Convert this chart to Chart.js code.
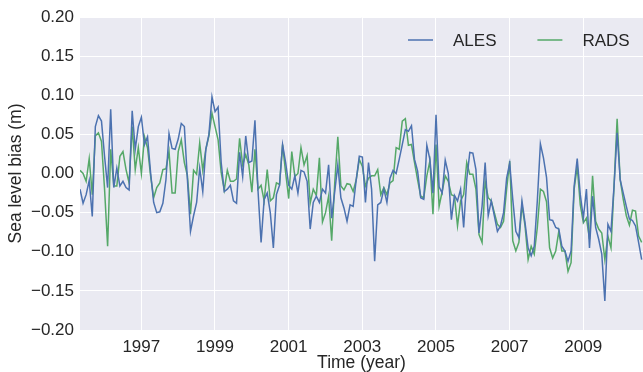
<!DOCTYPE html>
<html>
<head>
<meta charset="utf-8">
<script src="https://cdn.jsdelivr.net/npm/chart.js@4"></script>
<style>
  html, body { margin: 0; padding: 0; background: #ffffff; }
  #chart { display: block; }
</style>
</head>
<body>
<canvas id="chart" width="643" height="372"></canvas>
<script>
// monthly samples, decimal years starting at the first month
var startYear = 1995.336;
var endYear = 2010.622;

var ales = [
  -0.020, -0.038, -0.027, -0.009, -0.055, 0.060, 0.074, 0.067, 0.022, -0.018,
  0.082, -0.018, 0.007, -0.016, -0.010, -0.018, -0.021, 0.080, 0.031, 0.060,
  0.072, 0.037, 0.047, 0.001, -0.037, -0.050, -0.049, -0.038, -0.008, 0.051,
  0.032, 0.031, 0.044, 0.064, 0.060, -0.008, -0.074, -0.054, -0.037, 0.007,
  -0.023, 0.031, 0.050, 0.098, 0.079, 0.085, 0.014, -0.023, -0.020, -0.015,
  -0.035, -0.038, 0.027, -0.004, 0.048, 0.014, 0.016, 0.068, -0.022, -0.088,
  -0.033, -0.025, -0.050, -0.095, -0.027, -0.015, 0.037, 0.014, -0.015, -0.020,
  -0.003, -0.025, 0.004, 0.002, -0.010, -0.071, -0.037, -0.029, -0.037, -0.020,
  -0.025, 0.011, -0.057, -0.023, 0.011, -0.031, -0.044, -0.061, -0.040, -0.042,
  -0.008, 0.022, 0.021, -0.037, 0.014, -0.020, -0.112, -0.040, -0.037, -0.020,
  -0.037, -0.006, 0.004, 0.000, 0.018, 0.037, 0.056, 0.054, 0.061, 0.018,
  0.003, -0.031, -0.033, 0.036, 0.018, -0.025, 0.075, -0.017, -0.025, 0.017,
  0.000, -0.059, -0.028, -0.035, -0.020, -0.069, -0.008, 0.027, 0.026, 0.005,
  -0.076, -0.042, 0.014, -0.054, -0.035, -0.054, -0.074, -0.067, -0.050, -0.006,
  0.013, -0.033, -0.074, -0.082, -0.035, -0.063, -0.095, -0.105, -0.093, -0.035,
  0.038, 0.020, -0.005, -0.059, -0.060, -0.069, -0.071, -0.093, -0.099, -0.112,
  -0.099, -0.016, 0.019, -0.027, -0.057, -0.020, -0.095, -0.029, -0.069, -0.084,
  -0.103, -0.163, -0.065, -0.074, -0.016, 0.052, -0.008, -0.025, -0.042, -0.058,
  -0.060, -0.067, -0.088, -0.110
];

var rads = [
  0.004, 0.000, -0.010, 0.019, -0.027, 0.048, 0.052, 0.041, -0.020, -0.093,
  0.031, -0.016, -0.016, 0.022, 0.028, 0.005, -0.012, 0.060, 0.005, 0.033,
  0.000, 0.047, 0.033, -0.003, -0.031, -0.018, -0.012, 0.005, 0.006, 0.028,
  -0.025, -0.025, 0.028, 0.043, 0.014, -0.003, -0.052, 0.004, -0.001, 0.039,
  0.004, 0.031, 0.048, 0.077, 0.060, 0.043, 0.001, -0.021, 0.004, -0.010,
  -0.010, -0.007, 0.045, 0.011, 0.024, 0.011, -0.024, 0.031, -0.020, -0.015,
  -0.035, 0.005, -0.035, -0.031, -0.012, -0.014, 0.037, 0.001, -0.032, 0.028,
  -0.004, 0.000, 0.033, 0.011, 0.023, -0.038, -0.020, -0.028, 0.020, -0.062,
  -0.050, -0.029, -0.086, -0.012, 0.047, -0.016, -0.021, -0.013, -0.014, -0.023,
  -0.008, 0.018, 0.009, -0.016, -0.006, -0.003, -0.003, 0.005, -0.027, -0.018,
  -0.027, -0.012, -0.009, 0.033, 0.031, 0.067, 0.070, 0.036, 0.037, 0.014,
  -0.008, -0.029, -0.031, -0.003, 0.016, -0.052, 0.037, -0.042, -0.023, -0.003,
  -0.010, -0.027, -0.029, -0.067, -0.035, -0.027, 0.014, -0.001, -0.001, -0.020,
  -0.078, -0.088, -0.010, -0.031, -0.035, -0.050, -0.065, -0.069, -0.061, -0.020,
  0.016, -0.086, -0.099, -0.088, -0.040, -0.067, -0.110, -0.093, -0.103, -0.069,
  -0.020, -0.023, -0.036, -0.095, -0.108, -0.099, -0.074, -0.099, -0.099, -0.125,
  -0.114, -0.020, 0.009, -0.040, -0.063, -0.057, -0.084, -0.003, -0.061, -0.071,
  -0.076, -0.110, -0.080, -0.095, -0.016, 0.070, -0.008, -0.033, -0.054, -0.066,
  -0.047, -0.048, -0.080, -0.088
];

var xTickYears = [1997, 1999, 2001, 2003, 2005, 2007, 2009];
var yMin = -0.20;
var yMax = 0.20;
var yStep = 0.05;

var seriesNames = ["ALES", "RADS"];
var seriesColors = ["#4C72B0", "#55A868"];

var FONT = "'Liberation Sans', Arial, sans-serif";
var TEXT = "#262626";

function toPoints(values) {
  return values.map(function (v, i) {
    return { x: startYear + i / 12, y: v };
  });
}

// grey plot background, seaborn style
var plotBackground = {
  id: 'plotBackground',
  beforeDraw: function (chart) {
    var a = chart.chartArea, ctx = chart.ctx;
    ctx.save();
    ctx.fillStyle = '#EAEAF2';
    ctx.fillRect(a.left, a.top, a.right - a.left, a.bottom - a.top);
    ctx.restore();
  }
};

// legend drawn inside the plot, top right
var insideLegend = {
  id: 'insideLegend',
  afterDatasetsDraw: function (chart) {
    var a = chart.chartArea, ctx = chart.ctx;
    var y = a.top + 23;
    var x0 = a.right - 235;
    ctx.save();
    ctx.font = "17px " + FONT;
    ctx.textBaseline = 'middle';
    ctx.textAlign = 'left';
    seriesNames.forEach(function (name, k) {
      var x = x0 + k * 129.4;
      ctx.strokeStyle = seriesColors[k];
      ctx.lineWidth = 1.5;
      ctx.beginPath();
      ctx.moveTo(x, y);
      ctx.lineTo(x + 25, y);
      ctx.stroke();
      ctx.fillStyle = TEXT;
      ctx.fillText(name, x + 45, y + 1);
    });
    ctx.restore();
  }
};

var ctx = document.getElementById('chart');

new Chart(ctx, {
  type: 'line',
  data: {
    datasets: [{
      label: seriesNames[0],
      data: toPoints(ales),
      borderColor: seriesColors[0],
      backgroundColor: seriesColors[0],
      borderWidth: 1.5,
      pointRadius: 0,
      tension: 0,
      fill: false
    }, {
      label: seriesNames[1],
      data: toPoints(rads),
      borderColor: seriesColors[1],
      backgroundColor: seriesColors[1],
      borderWidth: 1.5,
      pointRadius: 0,
      tension: 0,
      fill: false
    }]
  },
  options: {
    responsive: false,
    animation: false,
    devicePixelRatio: 1,
    layout: { padding: { top: 17, right: 0, left: 0, bottom: 0 } },
    plugins: {
      legend: { display: false },
      tooltip: { enabled: false }
    },
    scales: {
      x: {
        type: 'linear',
        min: startYear,
        max: endYear,
        afterFit: function (s) { s.height = 42; },
        afterBuildTicks: function (s) {
          s.ticks = xTickYears.map(function (v) { return { value: v }; });
        },
        border: { display: false },
        grid: { color: '#ffffff', lineWidth: 1, drawTicks: false },
        ticks: {
          color: TEXT,
          font: { family: FONT, size: 17 },
          padding: 7,
          maxRotation: 0,
          callback: function (v) { return String(v); }
        },
        title: {
          display: true,
          text: 'Time (year)',
          color: TEXT,
          font: { family: FONT, size: 17.5, lineHeight: 1.1 },
          padding: { top: 0, bottom: -1 }
        }
      },
      y: {
        min: yMin,
        max: yMax,
        afterFit: function (s) { s.width = 80; },
        border: { display: false },
        grid: { color: '#ffffff', lineWidth: 1, drawTicks: false },
        ticks: {
          stepSize: yStep,
          color: TEXT,
          font: { family: FONT, size: 17 },
          padding: 6,
          callback: function (v) {
            var s = Math.abs(v) < 1e-9 ? '0.00' : Number(v).toFixed(2);
            return s.replace('-', '\u2212');
          }
        },
        title: {
          display: true,
          text: 'Sea level bias (m)',
          color: TEXT,
          font: { family: FONT, size: 17.5 },
          padding: { top: 6, bottom: 0 }
        }
      }
    }
  },
  plugins: [plotBackground, insideLegend]
});
</script>
</body>
</html>
